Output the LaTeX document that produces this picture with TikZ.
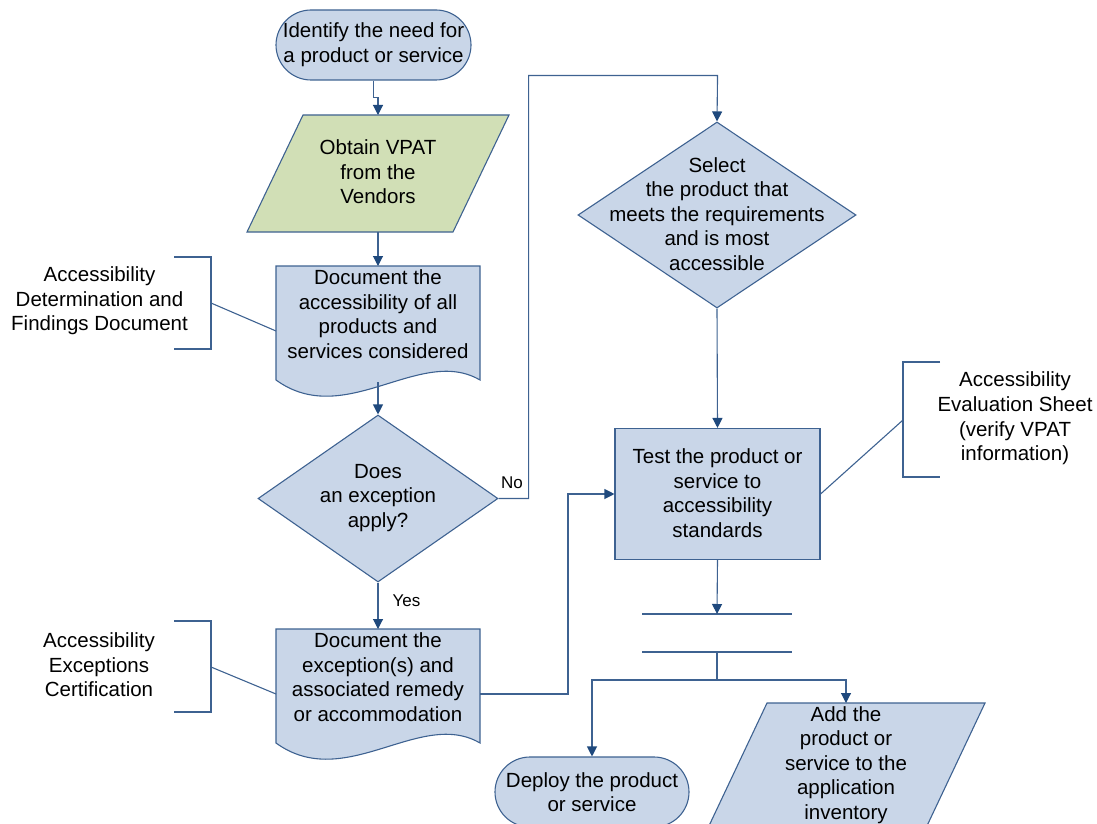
\documentclass[tikz,border=0pt]{standalone}
\usepackage{fontspec}
\setmainfont{Liberation Sans}
\usetikzlibrary{shapes.geometric,arrows.meta}
\definecolor{lnc}{RGB}{62,98,145}
\definecolor{arc}{RGB}{31,73,125}
\definecolor{bfill}{RGB}{201,214,232}
\definecolor{gfill}{RGB}{209,223,182}
\tikzset{
 shp/.style={draw=lnc, line width=1.1pt, fill=bfill},
 txt/.style={align=center, font=\fontsize{20.5}{24.6}\selectfont, inner sep=0pt},
 lbl/.style={font=\fontsize{17}{20}\selectfont, inner sep=0pt},
 con/.style={draw=lnc, line width=1.1pt},
 arr/.style={con, -{Triangle[length=10pt,width=10pt,color=arc]}},
}
\begin{document}
\begin{tikzpicture}[x=1pt,y=-1pt]
\useasboundingbox (0,0) rectangle (1097,824);

% start terminal
\node[shp, rounded corners=35pt, minimum width=195pt, minimum height=70pt, inner sep=0pt, txt] (t1) at (373.5,45) {Identify the need for\\a product or service};

% parallelogram 1 (green)
\draw[shp, fill=gfill] (303,115) -- (509,115) -- (453,232) -- (247,232) -- cycle;
\coordinate (p1n) at (378,115);
\coordinate (p1s) at (378,232);
\node[txt] (p1) at (378,172) {Obtain VPAT\\from the\\Vendors};

% document 1
\draw[shp] (276,266) -- (480,266) -- (480,380) .. controls (420,345) and (345,430) .. (276,380) -- cycle;
\coordinate (doc1n) at (378,266);
\coordinate (doc1s) at (378,382);
\coordinate (doc1w) at (276,331);
\node[txt] (doc1) at (378,314) {Document the\\accessibility of all\\products and\\services considered};

% decision 1
\node[shp, diamond, minimum width=240pt, minimum height=167pt, inner sep=0pt] (d1) at (378,498.5) {};
\node[txt] (d1t) at (378,498) {Does\\an exception\\apply?};

% document 2
\draw[shp] (276,629) -- (480,629) -- (480,743) .. controls (420,708) and (345,793) .. (276,743) -- cycle;
\coordinate (doc2n) at (378,629);
\coordinate (doc2e) at (480,694);
\coordinate (doc2w) at (276,694);
\node[txt] (doc2) at (378,677) {Document the\\exception(s) and\\associated remedy\\or accommodation};

% decision 2
\node[shp, diamond, minimum width=278pt, minimum height=186pt, inner sep=0pt] (d2) at (717,215) {};
\node[txt] (d2t) at (717,214) {Select\\the product that\\meets the requirements\\and is most\\accessible};

% process rectangle
\node[shp, minimum width=205pt, minimum height=131pt, inner sep=0pt] (r1) at (717.5,494) {};
\node[txt] (r1t) at (717.5,493) {Test the product or\\service to\\accessibility\\standards};

% parallel bars
\draw[con] (642,614) coordinate (b1l) -- (792,614) coordinate (b1r);
\draw[con] (642,652) coordinate (b2l) -- (792,652) coordinate (b2r);
\coordinate (b1) at (717,614);
\coordinate (b2) at (717,652);
\coordinate (jn) at (717,680);

% deploy terminal
\node[shp, rounded corners=35pt, minimum width=194pt, minimum height=70pt, inner sep=0pt, txt] (t2) at (592,792) {Deploy the product\\or service};

% parallelogram 2
\draw[shp] (767,703) -- (985,703) -- (925,830) -- (707,830) -- cycle;
\coordinate (p2n) at (846,703);
\node[txt] (p2) at (846,765) {Add the\\product or\\service to the\\application\\inventory};

% annotations
\draw[con] (174,257) -- (211,257) -- (211,349) -- (174,349);
\coordinate (a1) at (211,303);
\node[txt] (a1t) at (99.5,301) {Accessibility\\Determination and\\Findings Document};
\draw[con] (a1) -- (doc1w);

\draw[con] (174,621) -- (211,621) -- (211,712) -- (174,712);
\coordinate (a2) at (211,667);
\node[txt] (a2t) at (99,665) {Accessibility\\Exceptions\\Certification};
\draw[con] (a2) -- (doc2w);

\draw[con] (940,362) -- (903,362) -- (903,477) -- (940,477);
\coordinate (a3) at (903,420);
\node[txt] (a3t) at (1015,418.5) {Accessibility\\Evaluation Sheet\\(verify VPAT\\information)};
\draw[con] (a3) -- (r1.east);

% connectors
\draw[arr] (t1.south) -- ++(0,17) -| (p1n);
\draw[arr] (p1s) -- (doc1n);
\draw[arr] (doc1s) -- (d1.north);
\draw[arr] (d1.south) -- (doc2n) node[lbl, pos=0.4, right=14pt] (yes) {Yes};
\draw[arr] (d1.east) -- ++(30,0) |- ++(189,-423) -- (d2.north);
\node[lbl] (no) at (512,483) {No};
\draw[arr] (d2.south) -- (r1.north);
\draw[arr] (doc2e) -- (568,694) |- (r1.west);
\draw[arr] (r1.south) -- (b1);
\draw[con] (b2) -- (jn);
\draw[arr] (jn) -| (t2.north);
\draw[arr] (jn) -| (p2n);
\end{tikzpicture}
\end{document}
